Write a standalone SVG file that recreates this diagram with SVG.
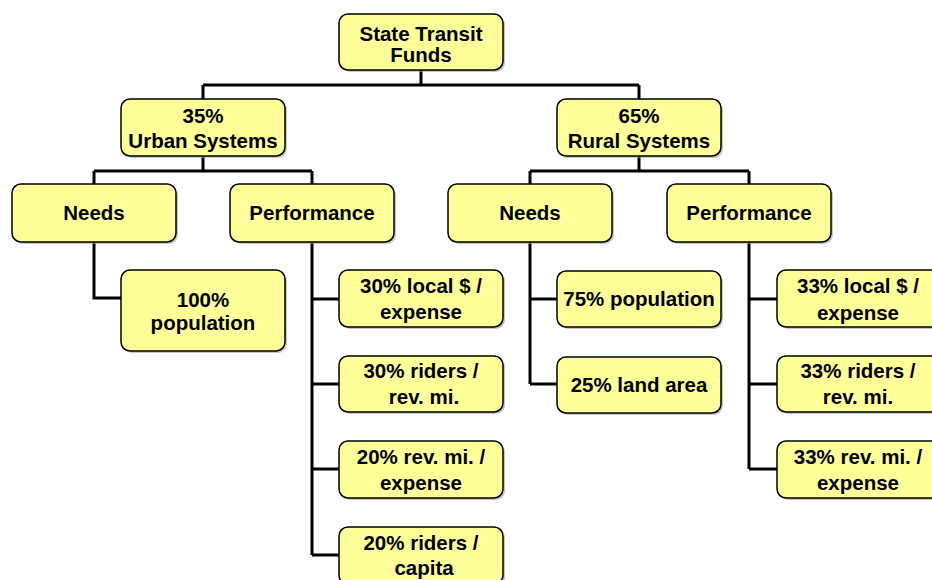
<svg xmlns="http://www.w3.org/2000/svg" width="932" height="580" viewBox="0 0 932 580">
<style>
.box{fill:#FFFF99;stroke:#000;stroke-width:1.5}
.sh{fill:#A0A0A0;opacity:0.6}
.t{font-family:"Liberation Sans",Arial,sans-serif;font-weight:bold;font-size:20.5px;fill:#000;text-anchor:middle}
.c{fill:none;stroke:#000;stroke-width:3;stroke-linejoin:miter}
</style>
<rect width="932" height="580" fill="#fff"/>
<g id="connectors">
<path class="c" d="M421 70V85M203 85H639M203 85V99M639 85V99"/>
<path class="c" d="M203 156V171M94 171H312M94 171V184M312 171V184"/>
<path class="c" d="M639 156V171M530 171H749M530 171V184M749 171V184"/>
<path class="c" d="M94 242V298H121"/>
<path class="c" d="M312 242V555M312 299H339M312 384H339M312 469H339M312 555H339"/>
<path class="c" d="M530 242V384M530 299H557M530 384H557"/>
<path class="c" d="M749 242V469M749 299H777M749 384H777M749 469H777"/>
</g>
<g id="n-state"><rect class="sh" x="341" y="16" width="164" height="56" rx="9"/><rect class="box" x="339" y="14" width="164" height="56" rx="9"/><text class="t" x="421" y="41">State Transit</text><text class="t" x="421" y="62">Funds</text></g>
<g id="n-urban"><rect class="sh" x="123" y="101" width="164" height="57" rx="9"/><rect class="box" x="121" y="99" width="164" height="57" rx="9"/><text class="t" x="203" y="123">35%</text><text class="t" x="203" y="148">Urban Systems</text></g>
<g id="n-rural"><rect class="sh" x="559" y="101" width="164" height="57" rx="9"/><rect class="box" x="557" y="99" width="164" height="57" rx="9"/><text class="t" x="639" y="123">65%</text><text class="t" x="639" y="148">Rural Systems</text></g>
<g id="n-u-needs"><rect class="sh" x="14" y="186" width="164" height="58" rx="9"/><rect class="box" x="12" y="184" width="164" height="58" rx="9"/><text class="t" x="94" y="220">Needs</text></g>
<g id="n-u-perf"><rect class="sh" x="232" y="186" width="164" height="58" rx="9"/><rect class="box" x="230" y="184" width="164" height="58" rx="9"/><text class="t" x="312" y="220">Performance</text></g>
<g id="n-r-needs"><rect class="sh" x="450" y="186" width="164" height="58" rx="9"/><rect class="box" x="448" y="184" width="164" height="58" rx="9"/><text class="t" x="530" y="220">Needs</text></g>
<g id="n-r-perf"><rect class="sh" x="669" y="186" width="164" height="58" rx="9"/><rect class="box" x="667" y="184" width="164" height="58" rx="9"/><text class="t" x="749" y="220">Performance</text></g>
<g id="n-u-pop"><rect class="sh" x="123" y="272" width="164" height="81" rx="9"/><rect class="box" x="121" y="270" width="164" height="81" rx="9"/><text class="t" x="203" y="307">100%</text><text class="t" x="203" y="330">population</text></g>
<g id="n-u-p1"><rect class="sh" x="341" y="272" width="164" height="57" rx="9"/><rect class="box" x="339" y="270" width="164" height="57" rx="9"/><text class="t" x="421" y="293">30% local $ /</text><text class="t" x="421" y="319">expense</text></g>
<g id="n-u-p2"><rect class="sh" x="341" y="358" width="164" height="56" rx="9"/><rect class="box" x="339" y="356" width="164" height="56" rx="9"/><text class="t" x="421" y="378">30% riders /</text><text class="t" x="424" y="404">rev. mi.</text></g>
<g id="n-u-p3"><rect class="sh" x="341" y="443" width="164" height="57" rx="9"/><rect class="box" x="339" y="441" width="164" height="57" rx="9"/><text class="t" x="421" y="464">20% rev. mi. /</text><text class="t" x="421" y="490">expense</text></g>
<g id="n-u-p4"><rect class="sh" x="341" y="529" width="164" height="57" rx="9"/><rect class="box" x="339" y="527" width="164" height="57" rx="9"/><text class="t" x="421" y="550">20% riders /</text><text class="t" x="424" y="575">capita</text></g>
<g id="n-r-pop"><rect class="sh" x="559" y="273" width="164" height="56" rx="9"/><rect class="box" x="557" y="271" width="164" height="56" rx="9"/><text class="t" x="639" y="306">75% population</text></g>
<g id="n-r-land"><rect class="sh" x="559" y="359" width="164" height="56" rx="9"/><rect class="box" x="557" y="357" width="164" height="56" rx="9"/><text class="t" x="639" y="392">25% land area</text></g>
<g id="n-r-p1"><rect class="sh" x="779" y="272" width="164" height="57" rx="9"/><rect class="box" x="777" y="270" width="164" height="57" rx="9"/><text class="t" x="858" y="293">33% local $ /</text><text class="t" x="858" y="320">expense</text></g>
<g id="n-r-p2"><rect class="sh" x="779" y="358" width="164" height="56" rx="9"/><rect class="box" x="777" y="356" width="164" height="56" rx="9"/><text class="t" x="858" y="378">33% riders /</text><text class="t" x="858" y="404">rev. mi.</text></g>
<g id="n-r-p3"><rect class="sh" x="779" y="443" width="164" height="57" rx="9"/><rect class="box" x="777" y="441" width="164" height="57" rx="9"/><text class="t" x="858" y="464">33% rev. mi. /</text><text class="t" x="858" y="490">expense</text></g>
</svg>
